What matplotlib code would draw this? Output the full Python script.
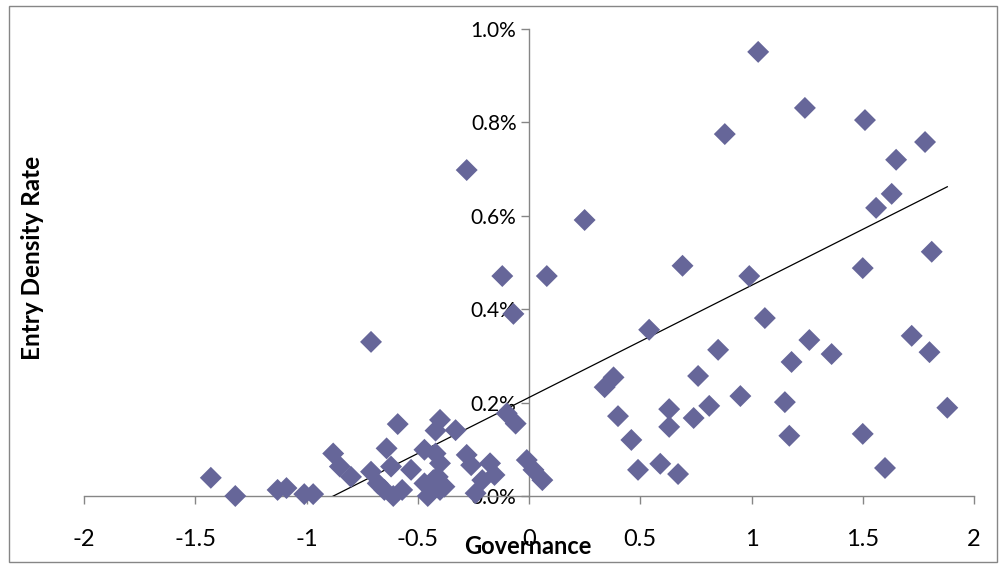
import numpy as np
import matplotlib
matplotlib.use("Agg")
import matplotlib.pyplot as plt
from matplotlib.patches import Rectangle
from matplotlib.ticker import FuncFormatter

plt.rcParams["font.family"] = ["Lato", "DejaVu Sans"]

# governance score vs entry density rate (in %)
governance = [
    1.03, 1.24, 1.51, 0.88, 1.78, 1.65, 1.63, 1.56, 0.25, -0.28,
    1.81, 0.69, 1.50, 0.99, 0.08, -0.12, -0.07, 1.06, 0.54, -0.71,
    1.26, 1.72, 1.36, 1.80, 0.85, 1.18, 0.38, 0.34, 0.40, 0.46,
    0.49, 0.59, 0.67, 0.63, 0.63, 0.74, 0.81, 0.76, 0.95, 1.15,
    1.17, 1.50, 1.60, 1.88,
    -0.10, -0.06, -0.01, 0.02, 0.06,
    -1.43, -1.32, -1.13, -1.09, -1.01, -0.97, -0.88, -0.85, -0.80, -0.71,
    -0.68, -0.65, -0.61, -0.62, -0.64, -0.59, -0.53, -0.47, -0.47, -0.455,
    -0.43, -0.40, -0.42, -0.40, -0.42, -0.33, -0.41, -0.38, -0.28, -0.26,
    -0.175, -0.155, -0.21, -0.24, -0.57, -0.40,
]
entry_rate = [
    0.951, 0.831, 0.805, 0.775, 0.758, 0.720, 0.647, 0.617, 0.591, 0.698,
    0.523, 0.493, 0.488, 0.471, 0.471, 0.471, 0.390, 0.381, 0.356, 0.330,
    0.334, 0.343, 0.304, 0.308, 0.313, 0.287, 0.254, 0.233, 0.171, 0.120,
    0.056, 0.069, 0.047, 0.186, 0.148, 0.167, 0.193, 0.257, 0.214, 0.201,
    0.129, 0.133, 0.060, 0.189,
    0.177, 0.155, 0.077, 0.056, 0.034,
    0.039, 0.000, 0.013, 0.017, 0.004, 0.004, 0.091, 0.063, 0.041, 0.052,
    0.027, 0.013, 0.000, 0.063, 0.102, 0.154, 0.056, 0.099, 0.027, 0.000,
    0.034, 0.013, 0.091, 0.163, 0.140, 0.141, 0.041, 0.020, 0.088, 0.066,
    0.070, 0.045, 0.034, 0.006, 0.013, 0.070,
]

# linear trendline as shown in the chart (% per unit governance)
trend_slope = 0.24
trend_intercept = 0.211

x_ticks = [-2, -1.5, -1, -0.5, 0, 0.5, 1, 1.5, 2]
y_ticks = [0.0, 0.2, 0.4, 0.6, 0.8, 1.0]

marker_col = "#666699"
axis_col = "#868686"

fig = plt.figure(figsize=(10.02, 5.65), dpi=100)
ax = fig.add_axes([84 / 1002, 1 - 496 / 565, 890 / 1002, 467 / 565])

ax.scatter(governance, entry_rate, marker="D", s=125, color=marker_col,
           edgecolor="none", zorder=5, clip_on=False)

gx = np.array(governance)
tx = np.array([gx.min(), gx.max()])
ax.plot(tx, trend_slope * tx + trend_intercept, color="black", lw=0.9,
        zorder=4)

ax.set_xlim(-2, 2)
ax.set_ylim(0, 1.0)
ax.set_xticks(x_ticks)
ax.set_yticks(y_ticks)
ax.xaxis.set_major_formatter(FuncFormatter(lambda v, p: f"{v:g}"))
ax.yaxis.set_major_formatter(FuncFormatter(lambda v, p: f"{v:.1f}%"))

for side in ["top", "right"]:
    ax.spines[side].set_visible(False)
ax.spines["left"].set_position(("data", 0))
ax.spines["bottom"].set_position(("data", 0))
for side in ["left", "bottom"]:
    ax.spines[side].set_color(axis_col)
    ax.spines[side].set_linewidth(1.0)

ax.tick_params(axis="both", colors=axis_col, labelcolor="black",
               direction="out", length=6, width=1.0)
ax.tick_params(axis="x", pad=18, labelsize=17)
ax.tick_params(axis="y", pad=3, labelsize=15)

fig.text(528 / 1002, 1 - 546 / 565, "Governance", ha="center", va="center",
         fontsize=17, fontweight="bold")
fig.text(33 / 1002, 1 - 258 / 565, "Entry Density Rate", ha="center",
         va="center", rotation=90, fontsize=17.5, fontweight="bold")

fig.patches.append(Rectangle((9 / 1002, 3 / 565), 988 / 1002, 556 / 565,
                             transform=fig.transFigure, fill=False,
                             edgecolor=axis_col, lw=1.0))

fig.savefig("out.png", dpi=100)
